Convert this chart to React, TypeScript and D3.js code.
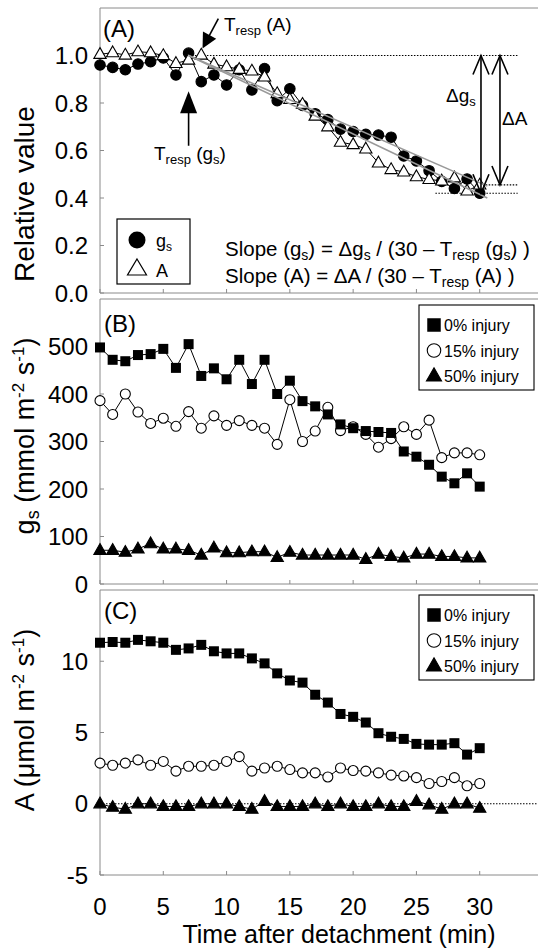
import React from "react";
import * as d3 from "d3";

// minutes after detachment
const minutes = [0, 1, 2, 3, 4, 5, 6, 7, 8, 9, 10, 11, 12, 13, 14, 15, 16, 17, 18, 19, 20, 21, 22, 23, 24, 25, 26, 27, 28, 29, 30];

// (A) relative values
const relGs = [0.96, 0.95, 0.94, 0.964, 0.974, 0.99, 0.918, 1.01, 0.89, 0.918, 0.876, 0.94, 0.855, 0.945, 0.81, 0.86, 0.79, 0.755, 0.73, 0.69, 0.68, 0.668, 0.665, 0.656, 0.577, 0.556, 0.515, 0.47, 0.44, 0.48, 0.42];
const relA = [1.005, 1.012, 1.002, 1.016, 1.012, 1.0, 0.967, 0.981, 1.002, 0.964, 0.953, 0.942, 0.935, 0.91, 0.84, 0.815, 0.795, 0.745, 0.7, 0.635, 0.625, 0.607, 0.548, 0.52, 0.51, 0.49, 0.478, 0.472, 0.485, 0.43, 0.455];

// (B) gs, mmol m-2 s-1
const gs0 = [498, 472, 469, 482, 484, 495, 455, 505, 438, 454, 431, 472, 421, 472, 400, 428, 385, 374, 357, 336, 328, 322, 320, 318, 279, 268, 251, 226, 212, 233, 205];
const gs15 = [386, 357, 400, 362, 338, 349, 332, 363, 328, 354, 334, 344, 334, 328, 294, 388, 300, 322, 372, 323, 331, 315, 288, 306, 331, 315, 345, 266, 276, 276, 272];
const gs50 = [71, 71, 67, 74, 85, 74, 74, 71, 61, 76, 66, 66, 68, 68, 56, 67, 61, 61, 61, 61, 61, 52, 63, 58, 55, 63, 63, 58, 58, 55, 55];

// (C) A, umol m-2 s-1
const a0 = [11.3, 11.35, 11.3, 11.5, 11.4, 11.3, 10.8, 10.9, 11.15, 10.7, 10.55, 10.55, 10.2, 9.85, 9.15, 8.65, 8.5, 7.65, 7.1, 6.3, 6.1, 5.7, 4.95, 4.7, 4.55, 4.2, 4.15, 4.15, 4.25, 3.45, 3.9];
const a15 = [2.85, 2.7, 2.85, 3.08, 2.7, 2.97, 2.29, 2.63, 2.63, 2.7, 2.97, 3.31, 2.29, 2.51, 2.63, 2.4, 2.17, 2.17, 1.88, 2.51, 2.33, 2.29, 2.17, 2.01, 1.95, 1.83, 1.42, 1.56, 1.83, 1.26, 1.42];
const a50 = [0, -0.24, -0.38, 0, 0, -0.19, -0.19, -0.19, 0, 0, 0, -0.19, -0.38, 0.17, -0.19, -0.19, -0.19, 0, -0.19, 0, -0.19, -0.19, 0, -0.19, -0.19, 0.17, -0.07, -0.38, 0, 0, -0.31];

// annotation values for panel A
const tRespGs = 7;
const tRespA = 8;
const gsEnd = 0.42;
const aEnd = 0.455;
const fitGs = [[7, 1.0], [30.6, 0.4]];
const fitA = [[7, 1.0], [30.6, 0.45]];

const injuryLabels = ["0% injury", "15% injury", "50% injury"];
const xTickVals = [0, 5, 10, 15, 20, 25, 30, 35];
const xTickLabels = ["0", "5", "10", "15", "20", "25", "30"];

const FONT = "'Liberation Sans', Arial, sans-serif";
const GRID = "#8a8a8a";

const x = d3.scaleLinear().domain([0, 35]).range([100, 543]);

const yA = d3.scaleLinear().domain([0, 1.2]).range([293, 8]);
const yB = d3.scaleLinear().domain([0, 600]).range([584, 299]);
const yC = d3.scaleLinear().domain([-5, 15]).range([875, 590]);

type Kind = "dot" | "ring" | "square" | "tri" | "otri";

function Marker({ kind, cx, cy, s }: { kind: Kind; cx: number; cy: number; s: number }) {
  if (kind === "dot" || kind === "ring") {
    return (
      <circle cx={cx} cy={cy} r={s / 2} fill={kind === "dot" ? "#000" : "#fff"} stroke="#000" strokeWidth={1.1} />
    );
  }
  if (kind === "square") {
    return <rect x={cx - s / 2} y={cy - s / 2} width={s} height={s} fill="#000" />;
  }
  const w = s * 1.12;
  const h = s * 0.98;
  const pts = `${cx},${cy - h * 0.62} ${cx + w / 2},${cy + h * 0.38} ${cx - w / 2},${cy + h * 0.38}`;
  return <polygon points={pts} fill={kind === "tri" ? "#000" : "#fff"} stroke="#000" strokeWidth={1.1} strokeLinejoin="miter" />;
}

function Series({ values, y, kind, s }: { values: number[]; y: d3.ScaleLinear<number, number>; kind: Kind; s: number }) {
  const line = d3
    .line<number>()
    .x((_, i) => x(minutes[i]))
    .y((d) => y(d));
  return (
    <g>
      <path d={line(values) || ""} fill="none" stroke="#000" strokeWidth={1} />
      {values.map((v, i) => (
        <Marker key={i} kind={kind} cx={x(minutes[i])} cy={y(v)} s={s} />
      ))}
    </g>
  );
}

function Frame({ y, ticks, fmt }: { y: d3.ScaleLinear<number, number>; ticks: number[]; fmt: (v: number) => string }) {
  const [bottom, top] = y.range();
  return (
    <g>
      <line x1={x(0)} x2={540} y1={top} y2={top} stroke={GRID} strokeWidth={1} />
      <line x1={x(0)} x2={540} y1={bottom} y2={bottom} stroke={GRID} strokeWidth={1} />
      <line x1={x(0)} x2={x(0)} y1={top} y2={bottom} stroke={GRID} strokeWidth={1} />
      {xTickVals.map((t) => (
        <line key={t} x1={x(t)} x2={x(t)} y1={bottom} y2={bottom - 4} stroke={GRID} strokeWidth={1} />
      ))}
      {ticks.map((t) => (
        <g key={t}>
          <line x1={x(0)} x2={x(0) + 4} y1={y(t)} y2={y(t)} stroke={GRID} strokeWidth={1} />
          <text x={88} y={y(t) + 8.5} textAnchor="end" fontSize={24} fill="#000">
            {fmt(t)}
          </text>
        </g>
      ))}
    </g>
  );
}

function InjuryLegend({ top }: { top: number }) {
  const kinds: Kind[] = ["square", "ring", "tri"];
  return (
    <g>
      <rect x={419} y={top} width={115} height={85} fill="#fff" stroke="#000" strokeWidth={1.1} />
      {injuryLabels.map((lab, i) => (
        <g key={lab}>
          <Marker kind={kinds[i]} cx={434} cy={top + 20 + i * 25.5} s={13.5} />
          <text x={444} y={top + 26 + i * 25.5} fontSize={16}>
            {lab}
          </text>
        </g>
      ))}
    </g>
  );
}

function arrowHeadFilled(tx: number, ty: number, fx: number, fy: number, len: number, hw: number) {
  const dx = tx - fx;
  const dy = ty - fy;
  const d = Math.hypot(dx, dy);
  const ux = dx / d;
  const uy = dy / d;
  const bx = tx - ux * len;
  const by = ty - uy * len;
  return `${tx},${ty} ${bx - uy * hw},${by + ux * hw} ${bx + uy * hw},${by - ux * hw}`;
}

export default function App() {
  const fitLine = d3
    .line<number[]>()
    .x((d) => x(d[0]))
    .y((d) => yA(d[1]));

  const dgX = x(30.1);
  const daX = x(31.6);

  const gsTipX = x(tRespGs);
  const gsTipY = yA(0.85);
  const aTipX = x(tRespA + 0.1);
  const aTipY = yA(1.03);
  const aFromX = x(tRespA + 1.35);
  const aFromY = yA(1.155);

  return (
    <svg width={538} height={949} style={{ position: "absolute", left: 0, top: 0, background: "#fff" }} fontFamily={FONT}>
      <rect width={538} height={949} fill="#fff" />

      {/* ---------- Panel A ---------- */}
      <Frame y={yA} ticks={[0, 0.2, 0.4, 0.6, 0.8, 1.0]} fmt={(v) => v.toFixed(1)} />
      <line x1={x(7.5)} x2={x(33)} y1={yA(1)} y2={yA(1)} stroke="#000" strokeWidth={1.2} strokeDasharray="1.5,1.5" />
      <line x1={x(30)} x2={x(33)} y1={yA(aEnd)} y2={yA(aEnd)} stroke="#000" strokeWidth={1.2} strokeDasharray="1.5,1.5" />
      <line x1={x(26.5)} x2={x(33)} y1={yA(gsEnd)} y2={yA(gsEnd)} stroke="#000" strokeWidth={1.2} strokeDasharray="1.5,1.5" />

      <Series values={relGs} y={yA} kind="dot" s={10.5} />
      <Series values={relA} y={yA} kind="otri" s={11} />

      <path d={fitLine(fitA) || ""} stroke="#999" strokeWidth={1.6} fill="none" />
      <path d={fitLine(fitGs) || ""} stroke="#999" strokeWidth={1.6} fill="none" />

      {/* delta arrows */}
      {[
        [dgX, gsEnd],
        [daX, aEnd],
      ].map(([ax, end], i) => (
        <g key={i} stroke="#000" strokeWidth={1.6} fill="none">
          <line x1={ax} x2={ax} y1={yA(1)} y2={yA(end)} />
          <polyline points={`${ax - 8},${yA(1) + 19} ${ax},${yA(1)} ${ax + 8},${yA(1) + 19}`} />
          <polyline points={`${ax - 8},${yA(end) - 19} ${ax},${yA(end)} ${ax + 8},${yA(end) - 19}`} />
        </g>
      ))}
      <text x={446} y={102} fontSize={19}>
        Δg<tspan dy={4} fontSize={13}>s</tspan>
      </text>
      <text x={502} y={125} fontSize={19}>
        ΔA
      </text>

      {/* Tresp arrows */}
      <line x1={gsTipX} x2={gsTipX} y1={yA(0.62)} y2={gsTipY + 10} stroke="#000" strokeWidth={1.6} />
      <polygon points={arrowHeadFilled(gsTipX, gsTipY, gsTipX, yA(0.62), 22, 8.5)} fill="#000" />
      <text x={154} y={160} fontSize={19}>
        T<tspan dy={4} fontSize={13}>resp</tspan>
        <tspan dy={-4}>{" (g"}</tspan>
        <tspan dy={4} fontSize={13}>s</tspan>
        <tspan dy={-4}>)</tspan>
      </text>

      <line x1={aFromX} y1={aFromY} x2={aTipX + (aFromX - aTipX) * 0.3} y2={aTipY + (aFromY - aTipY) * 0.3} stroke="#000" strokeWidth={1.6} />
      <polygon points={arrowHeadFilled(aTipX, aTipY, aFromX, aFromY, 15, 7.5)} fill="#000" />
      <text x={224} y={31} fontSize={19}>
        T<tspan dy={4} fontSize={13}>resp</tspan>
        <tspan dy={-4}>{" (A)"}</tspan>
      </text>

      {/* legend A */}
      <rect x={117} y={219} width={73} height={65} fill="#fff" stroke="#000" strokeWidth={1.2} />
      <circle cx={137} cy={240} r={8.5} fill="#000" />
      <polygon points="137,259 146.5,275 127.5,275" fill="#fff" stroke="#000" strokeWidth={1.2} />
      <text x={156} y={247} fontSize={18}>
        g<tspan dy={4} fontSize={12}>s</tspan>
      </text>
      <text x={156} y={277} fontSize={18}>
        A
      </text>

      <text x={225} y={256} fontSize={20.5}>
        {"Slope (g"}
        <tspan dy={4} fontSize={14}>s</tspan>
        <tspan dy={-4}>{") = Δg"}</tspan>
        <tspan dy={4} fontSize={14}>s</tspan>
        <tspan dy={-4}>{" / (30 – T"}</tspan>
        <tspan dy={4} fontSize={14}>resp</tspan>
        <tspan dy={-4}>{" (g"}</tspan>
        <tspan dy={4} fontSize={14}>s</tspan>
        <tspan dy={-4}>{") )"}</tspan>
      </text>
      <text x={225} y={283} fontSize={20.5}>
        {"Slope (A) = ΔA / (30 – T"}
        <tspan dy={4} fontSize={14}>resp</tspan>
        <tspan dy={-4}>{" (A) )"}</tspan>
      </text>

      <text x={103} y={37} fontSize={24}>
        (A)
      </text>

      {/* ---------- Panel B ---------- */}
      <Frame y={yB} ticks={[0, 100, 200, 300, 400, 500]} fmt={(v) => String(v)} />
      <Series values={gs50} y={yB} kind="tri" s={11} />
      <Series values={gs15} y={yB} kind="ring" s={10} />
      <Series values={gs0} y={yB} kind="square" s={10} />
      <InjuryLegend top={305} />
      <text x={104} y={332} fontSize={24}>
        (B)
      </text>

      {/* ---------- Panel C ---------- */}
      <Frame y={yC} ticks={[-5, 0, 5, 10]} fmt={(v) => String(v)} />
      <line x1={x(0)} x2={540} y1={yC(0)} y2={yC(0)} stroke="#000" strokeWidth={1.1} strokeDasharray="1.5,1.5" />
      <Series values={a50} y={yC} kind="tri" s={11} />
      <Series values={a15} y={yC} kind="ring" s={10} />
      <Series values={a0} y={yC} kind="square" s={10} />
      <InjuryLegend top={595} />
      <text x={104} y={619} fontSize={24}>
        (C)
      </text>

      {/* x tick labels */}
      {xTickLabels.map((l, i) => (
        <text key={l} x={x(xTickVals[i])} y={915} textAnchor="middle" fontSize={24}>
          {l}
        </text>
      ))}
      <text x={339} y={943} textAnchor="middle" fontSize={25}>
        Time after detachment (min)
      </text>

      {/* y titles */}
      <text transform="translate(34,194) rotate(-90)" textAnchor="middle" fontSize={28}>
        Relative value
      </text>
      <text transform="translate(34,436) rotate(-90)" textAnchor="middle" fontSize={27}>
        g<tspan dy={5} fontSize={18}>s</tspan>
        <tspan dy={-5}>{" (mmol m"}</tspan>
        <tspan dy={-10} fontSize={17}>-2</tspan>
        <tspan dy={10}>{" s"}</tspan>
        <tspan dy={-10} fontSize={17}>-1</tspan>
        <tspan dy={10}>)</tspan>
      </text>
      <text transform="translate(34,720) rotate(-90)" textAnchor="middle" fontSize={27}>
        {"A (μmol m"}
        <tspan dy={-10} fontSize={17}>-2</tspan>
        <tspan dy={10}>{" s"}</tspan>
        <tspan dy={-10} fontSize={17}>-1</tspan>
        <tspan dy={10}>)</tspan>
      </text>
    </svg>
  );
}
